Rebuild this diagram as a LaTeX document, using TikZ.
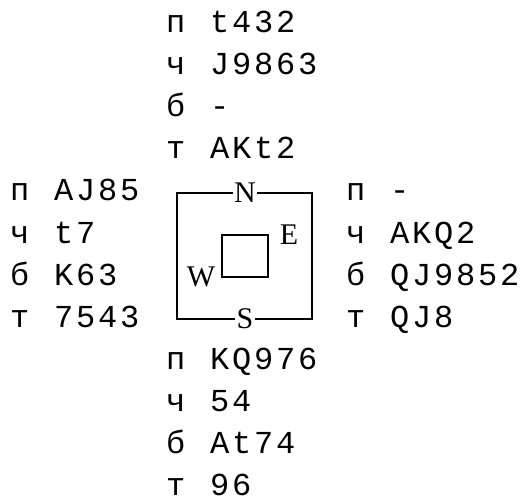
\documentclass[tikz,border=0pt]{standalone}
\usepackage{fontspec}
\newfontfamily\handfont[LetterSpace=8.75]{Liberation Mono}
\newfontfamily\seatfont{Liberation Serif}
\begin{document}
\begin{tikzpicture}[x=1pt,y=-1pt,
  card/.style={anchor=base west,inner sep=0pt,font={\fontsize{32}{38}\handfont}},
  seat/.style={inner sep=1.5pt,font={\fontsize{30}{32}\seatfont}},
  boxline/.style={line width=2.6pt}]
\useasboundingbox (0,0) rectangle (526,501);
% North
\foreach \i/\s/\h in {0/п/t432,1/ч/J9863,2/б/-,3/т/AKt2}{
  \node[card] (ns\i) at (166,{32.5+42.1*\i}) {\s};
  \node[card] (nh\i) at (210,{32.5+42.1*\i}) {\h};
}
% West
\foreach \i/\s/\h in {4/п/AJ85,5/ч/t7,6/б/K63,7/т/7543}{
  \node[card] (ws\i) at (10,{32.5+42.1*\i}) {\s};
  \node[card] (wh\i) at (54,{32.5+42.1*\i}) {\h};
}
% East
\foreach \i/\s/\h in {4/п/-,5/ч/AKQ2,6/б/QJ9852,7/т/QJ8}{
  \node[card] (es\i) at (346,{32.5+42.1*\i}) {\s};
  \node[card] (eh\i) at (390,{32.5+42.1*\i}) {\h};
}
% South
\foreach \i/\s/\h in {8/п/KQ976,9/ч/54,10/б/At74,11/т/96}{
  \node[card] (ss\i) at (166,{32.5+42.1*\i}) {\s};
  \node[card] (sh\i) at (210,{32.5+42.1*\i}) {\h};
}
% compass box
\draw[boxline] (177,193) rectangle (312,319);
\draw[boxline] (222,235) rectangle (268,277);
\node[seat,fill=white] (N) at (245,193) {N};
\node[seat,fill=white] (S) at (245,319) {S};
\node[seat] (E) at (289,235) {E};
\node[seat] (W) at (201,277) {W};
\end{tikzpicture}
\end{document}
